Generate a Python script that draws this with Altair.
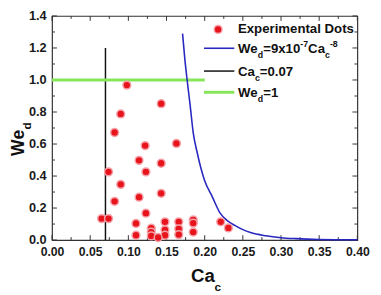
import altair as alt
import pandas as pd

# ---------------- data ----------------
ca_points = [0.098, 0.143, 0.090, 0.082, 0.122, 0.163, 0.114, 0.143, 0.074, 0.123,
             0.090, 0.143, 0.114, 0.082, 0.123, 0.065, 0.074, 0.110, 0.148, 0.166,
             0.185, 0.185, 0.221, 0.231, 0.130, 0.130, 0.130, 0.148, 0.148, 0.166,
             0.166, 0.185, 0.110, 0.139]
we_points = [0.968, 0.852, 0.788, 0.672, 0.590, 0.604, 0.498, 0.480, 0.426, 0.426,
             0.348, 0.292, 0.268, 0.242, 0.168, 0.134, 0.134, 0.104, 0.114, 0.114,
             0.126, 0.106, 0.114, 0.076, 0.074, 0.050, 0.026, 0.064, 0.030, 0.070,
             0.034, 0.050, 0.030, 0.016]

ca_curve = [0.171, 0.174, 0.177, 0.181, 0.185, 0.190, 0.195, 0.200, 0.210, 0.220,
            0.230, 0.240, 0.250, 0.260, 0.280, 0.300, 0.320, 0.350, 0.400]
we_curve = [1.29, 1.13, 1.00, 0.84, 0.67, 0.55, 0.45, 0.37, 0.27, 0.17,
            0.12, 0.09, 0.065, 0.047, 0.027, 0.015, 0.009, 0.004, 0.0015]

ca_crit = [0.07]
ca_crit_y = [0.0, 1.2]
we_crit = [1.0]
we_crit_x = [0.0, 0.2]

x_labels = [0.0, 0.05, 0.10, 0.15, 0.20, 0.25, 0.30, 0.35, 0.40]
y_labels = [0.0, 0.2, 0.4, 0.6, 0.8, 1.0, 1.2, 1.4]
x_minor = [0.025, 0.075, 0.125, 0.175, 0.225, 0.275, 0.325, 0.375]
y_minor = [0.1, 0.3, 0.5, 0.7, 0.9, 1.1, 1.3]

FONT = "Liberation Sans"
W, H = 312, 229

pts = pd.DataFrame({"ca": ca_points, "we": we_points})
curve = pd.DataFrame({"ca": ca_curve, "we": we_curve})
vline = pd.DataFrame({"ca": ca_crit, "y0": [ca_crit_y[0]], "y1": [ca_crit_y[1]]})
hline = pd.DataFrame({"we": we_crit, "x0": [we_crit_x[0]], "x1": [we_crit_x[1]]})

xs = alt.Scale(domain=[0, 0.4], nice=False, zero=False)
ys = alt.Scale(domain=[0, 1.4], nice=False, zero=False)

xaxis = alt.Axis(values=x_labels, format=".2f", title=None, ticks=False, tickSize=0,
                 domain=False, grid=False, labelFont=FONT, labelFontWeight="bold",
                 labelFontSize=12.5, labelColor="#1a1a1a", labelPadding=6,
                 labelOverlap=False, labelFlush=False)
yaxis = alt.Axis(values=y_labels, format=".1f", title=None, ticks=False, tickSize=0,
                 domain=False, grid=False, labelFont=FONT, labelFontWeight="bold",
                 labelFontSize=13, labelColor="#1a1a1a", labelPadding=6,
                 labelOverlap=False, labelFlush=False)

def X(f):
    return alt.X(f, scale=xs, axis=xaxis, title=None)

def Y(f):
    return alt.Y(f, scale=ys, axis=yaxis, title=None)

DOT = dict(size=64, color="#e8141c", opacity=1, stroke="#f4a0a8", strokeWidth=1.5)

points = alt.Chart(pts).mark_circle(**DOT).encode(x=X("ca:Q"), y=Y("we:Q"))

blue = alt.Chart(curve).mark_line(color="#2828c0", strokeWidth=1.6,
                                  interpolate="monotone").encode(
    x=X("ca:Q"), y=Y("we:Q"))

black = alt.Chart(vline).mark_rule(color="#111111", strokeWidth=1.5).encode(
    x=X("ca:Q"), y=Y("y0:Q"), y2="y1:Q")

green = alt.Chart(hline).mark_rule(color="#86e65a", strokeWidth=3).encode(
    y=Y("we:Q"), x=X("x0:Q"), x2="x1:Q")

TC = "#333333"
def yticks(vals, x0, x1):
    return alt.Chart(pd.DataFrame({"v": vals})).mark_rule(color=TC, strokeWidth=1).encode(
        y=Y("v:Q"), x=alt.value(x0), x2=alt.value(x1))

def xticks(vals, y0, y1):
    return alt.Chart(pd.DataFrame({"v": vals})).mark_rule(color=TC, strokeWidth=1).encode(
        x=X("v:Q"), y=alt.value(y0), y2=alt.value(y1))

ticks = [
    yticks(y_labels, 0, 5), yticks(y_minor, 0, 3),
    yticks(y_labels, W, W - 5), yticks(y_minor, W, W - 3),
    xticks(x_labels, H, H - 5), xticks(x_minor, H, H - 3),
    xticks(x_labels, 0, 5), xticks(x_minor, 0, 3),
]

# ---------------- legend (drawn manually for sub/superscripts) ----------------
def seg(x0, x1, y, color, width):
    return alt.Chart(pd.DataFrame({"a": [0]})).mark_rule(color=color, strokeWidth=width).encode(
        x=alt.value(x0), x2=alt.value(x1), y=alt.value(y))

leg_dot = alt.Chart(pd.DataFrame({"a": [0]})).mark_circle(**DOT).encode(
    x=alt.value(169.7), y=alt.value(13.7))

def txt(t, x, y, fs, angle=None):
    kw = dict(font=FONT, fontWeight="bold", align="left", baseline="middle",
              color="#111111", fontSize=fs, text=t)
    if angle is not None:
        kw["angle"] = angle
    return alt.Chart(pd.DataFrame({"a": [0]})).mark_text(**kw).encode(
        x=alt.value(x), y=alt.value(y))

r1, r2, r3, r4 = 13.7, 33.7, 57.0, 79.0
SUB, SUP = 6.0, -5.0
texts = [
    txt("Experimental Dots", 190.0, r1, 13.5),
    txt("We", 190.0, r2, 13.5), txt("d", 210.3, r2 + SUB, 9), txt("=9x10", 215.8, r2, 13.5),
    txt("-7", 253.7, r2 + SUP, 9), txt("Ca", 261.7, r2, 13.5), txt("c", 279.0, r2 + SUB, 9),
    txt("-8", 284.0, r2 + SUP, 9),
    txt("Ca", 190.0, r3, 13.5), txt("c", 207.3, r3 + SUB, 9), txt("=0.07", 212.3, r3, 13.5),
    txt("We", 190.0, r4, 13.5), txt("d", 210.3, r4 + SUB, 9), txt("=1", 215.8, r4, 13.5),
    # axis titles
    txt("Ca", 142.0, 266.3, 19), txt("c", 166.0, 277.0, 12),
    txt("We", -34.0, 143.0, 18, 270), txt("d", -26.0, 116.0, 12, 270),
]

chart = alt.layer(
    *ticks, black, green, blue, points,
    seg(155.3, 186.3, 33.0, "#2828c0", 1.6),
    seg(155.3, 186.3, 56.3, "#111111", 1.5),
    seg(155.3, 186.3, 78.0, "#86e65a", 3),
    leg_dot, *texts,
).properties(
    width=W, height=H,
    autosize=alt.AutoSizeParams(type="none"),
    padding={"left": 45, "top": 5, "right": 16, "bottom": 53},
    background="white",
).configure_view(stroke="#333333", strokeWidth=1.2)

chart.save("out.html", embed_options={"renderer": "svg", "actions": False})
